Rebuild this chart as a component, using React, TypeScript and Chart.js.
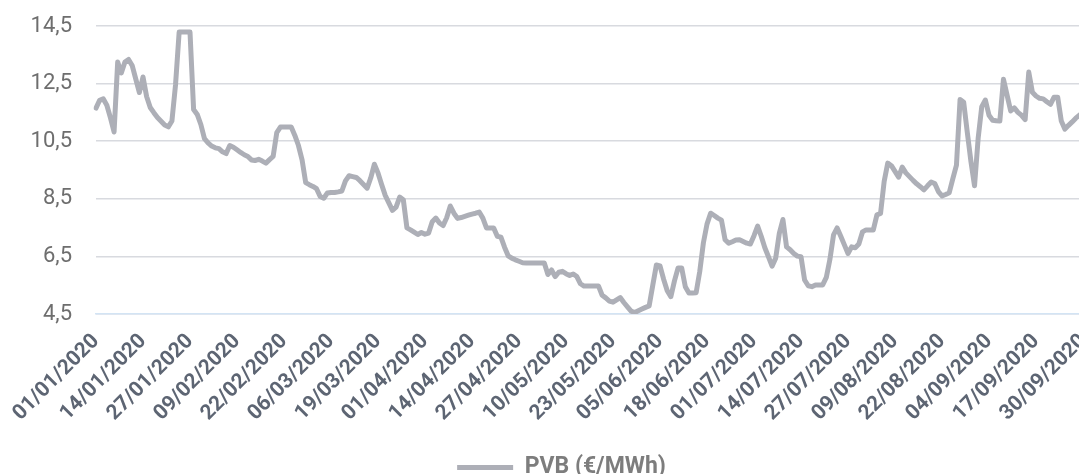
import React, { useEffect, useRef } from "react";
import { Chart, registerables } from "chart.js";

Chart.register(...registerables);

const MONTH_DAYS = [31, 29, 31, 30, 31, 30, 31, 31, 30];
const YEAR = 2020;
const SERIES_LABEL = "PVB (€/MWh)";
const Y_TICKS = [4.5, 6.5, 8.5, 10.5, 12.5, 14.5];
const LABEL_EVERY = 13;

const PVB = [
  11.65, 11.92, 11.97, 11.75, 11.31, 10.82, 13.25, 12.87, 13.25, 13.34,
  13.13, 12.66, 12.19, 12.73, 12.05, 11.67, 11.49, 11.32, 11.19, 11.06,
  11.0, 11.2, 12.46, 14.29, 14.29, 14.29, 14.29, 11.6, 11.43, 11.08,
  10.59, 10.44, 10.33, 10.27, 10.24, 10.13, 10.07, 10.35, 10.29, 10.2,
  10.11, 10.03, 9.97, 9.85, 9.83, 9.87, 9.81, 9.74, 9.86, 9.97,
  10.8, 10.99, 10.99, 10.99, 10.99, 10.7, 10.35, 9.85, 9.06, 8.99,
  8.93, 8.85, 8.58, 8.52, 8.7, 8.72, 8.72, 8.74, 8.77, 9.12,
  9.3, 9.27, 9.24, 9.13, 9.0, 8.87, 9.23, 9.7, 9.4, 9.0,
  8.62, 8.36, 8.1, 8.21, 8.56, 8.47, 7.49, 7.42, 7.34, 7.26,
  7.33, 7.27, 7.31, 7.7, 7.83, 7.66, 7.57, 7.84, 8.25, 8.0,
  7.82, 7.85, 7.89, 7.93, 7.97, 8.0, 8.04, 7.83, 7.49, 7.49,
  7.49, 7.2, 7.17, 6.82, 6.52, 6.44, 6.38, 6.33, 6.28, 6.27,
  6.27, 6.27, 6.27, 6.27, 6.27, 5.87, 6.03, 5.8, 5.95, 5.98,
  5.9, 5.84, 5.89, 5.8, 5.55, 5.47, 5.47, 5.47, 5.47, 5.47,
  5.15, 5.06, 4.95, 4.91, 4.99, 5.07, 4.9, 4.75, 4.6, 4.55,
  4.61, 4.67, 4.73, 4.78, 5.5, 6.2, 6.17, 5.71, 5.31, 5.1,
  5.65, 6.1, 6.1, 5.45, 5.23, 5.23, 5.24, 5.98, 6.97, 7.62,
  8.0, 7.92, 7.83, 7.76, 7.08, 6.96, 7.01, 7.07, 7.08, 7.02,
  6.96, 6.93, 7.22, 7.55, 7.2, 6.8, 6.49, 6.16, 6.44, 7.3,
  7.78, 6.83, 6.73, 6.6, 6.51, 6.49, 5.68, 5.48, 5.45, 5.51,
  5.51, 5.51, 5.77, 6.4, 7.25, 7.49, 7.2, 6.9, 6.6, 6.83,
  6.8, 6.93, 7.35, 7.42, 7.42, 7.42, 7.94, 7.99, 9.1, 9.74,
  9.65, 9.45, 9.25, 9.6, 9.4, 9.27, 9.14, 9.02, 8.92, 8.81,
  8.95, 9.08, 9.03, 8.75, 8.6, 8.65, 8.71, 9.2, 9.67, 11.95,
  11.85, 10.8, 9.8, 8.95, 10.6, 11.7, 11.93, 11.4, 11.23, 11.21,
  11.2, 12.65, 12.1, 11.55, 11.66, 11.5, 11.4, 11.25, 12.9, 12.2,
  12.07, 11.99, 11.97, 11.87, 11.78, 12.03, 12.03, 11.2, 10.92, 11.05,
  11.17, 11.3, 11.4, 11.5,
];

const pad2 = (n: number) => (n < 10 ? "0" + n : String(n));
const DATES: string[] = [];
MONTH_DAYS.forEach((days, m) => {
  for (let d = 1; d <= days; d++) DATES.push(`${pad2(d)}/${pad2(m + 1)}/${YEAR}`);
});

const LINE_COLOR = "#adafb7";
const GRID_COLOR = "#d8dadf";
const AXIS_COLOR = "#d3e4f4";

const legendShift = {
  id: "legendShift",
  afterLayout(chart: any) {
    const l = chart.legend;
    if (l) {
      l.left += 20;
      l.right += 20;
    }
  },
};

export default function App() {
  const ref = useRef<HTMLCanvasElement | null>(null);

  useEffect(() => {
    document.body.style.overflow = "hidden";
    const chart = new Chart(ref.current as HTMLCanvasElement, {
      type: "line",
      data: {
        labels: DATES,
        datasets: [
          {
            label: SERIES_LABEL,
            data: PVB,
            borderColor: LINE_COLOR,
            backgroundColor: LINE_COLOR,
            borderWidth: 5,
            pointRadius: 0,
            tension: 0,
            borderJoinStyle: "round",
            borderCapStyle: "round",
            fill: false,
          },
        ],
      },
      plugins: [legendShift],
      options: {
        animation: false,
        responsive: true,
        maintainAspectRatio: false,
        layout: { padding: { top: 26, right: 21, left: 0, bottom: 0 } },
        plugins: {
          tooltip: { enabled: false },
          legend: {
            position: "bottom",
            labels: {
              usePointStyle: true,
              pointStyle: "line",
              pointStyleWidth: 56,
              color: "#7d7d7d",
              font: { family: "Roboto", size: 23, weight: "bold" },
              padding: 10,
            },
          },
        },
        scales: {
          x: {
            afterFit: (s: any) => {
              s.height = 132;
              s.paddingLeft = 0;
              s.paddingRight = 0;
            },
            grid: { display: false, drawTicks: true, tickLength: 8 },
            border: { display: true, color: AXIS_COLOR, width: 1.5 },
            ticks: {
              autoSkip: false,
              maxRotation: 45,
              minRotation: 45,
              padding: 7,
              color: "#5d6573",
              font: { family: "Roboto", size: 21, weight: "bold" },
              callback: (_v: any, i: number) => (i % LABEL_EVERY === 0 ? DATES[i] : null),
            },
          },
          y: {
            min: Y_TICKS[0],
            max: Y_TICKS[Y_TICKS.length - 1],
            afterFit: (s: any) => {
              s.width = 96;
              s.paddingTop = 0;
              s.paddingBottom = 0;
            },
            afterBuildTicks: (s: any) => {
              s.ticks = Y_TICKS.map((v) => ({ value: v }));
            },
            grid: { color: GRID_COLOR, lineWidth: 1.5, drawTicks: false },
            border: { display: false },
            ticks: {
              padding: 24,
              color: "#6e6e6e",
              font: { family: "Roboto", size: 22 },
              callback: (v: any) => Number(v).toFixed(1).replace(".", ","),
            },
          },
        },
      },
    });
    return () => chart.destroy();
  }, []);

  return (
    <div style={{ position: "fixed", left: 0, top: 0, width: 1104, height: 489 }}>
      <canvas ref={ref} />
    </div>
  );
}
